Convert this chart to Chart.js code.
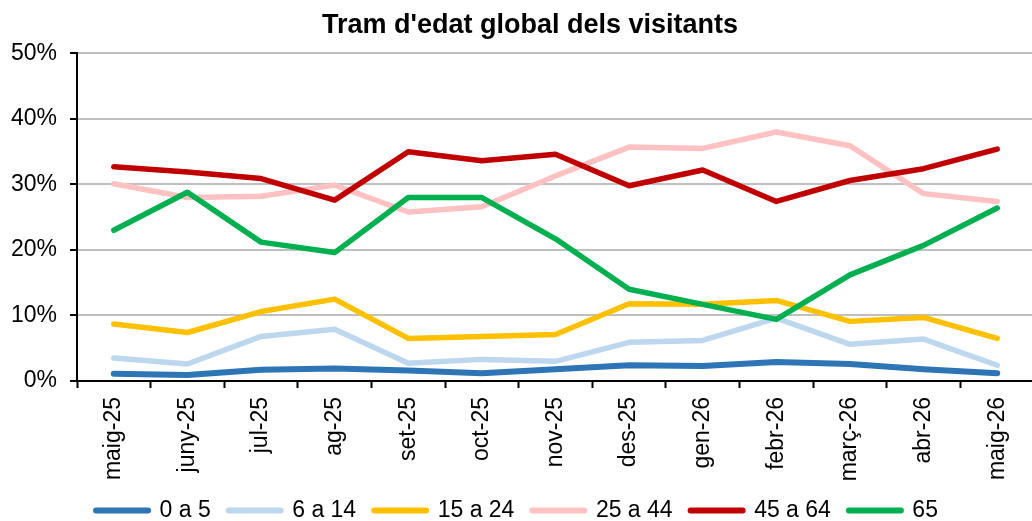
<!DOCTYPE html>
<html>
<head>
<meta charset="utf-8">
<script src="https://cdn.jsdelivr.net/npm/chart.js@4.4.1/dist/chart.umd.min.js"></script>
<style>
  html, body { margin: 0; padding: 0; background: #fff; overflow: hidden; }
  #wrap { width: 1032px; height: 521px; overflow: hidden; position: relative; }
  #box { width: 1036px; height: 521px; position: absolute; left: 0; top: 0; }
</style>
</head>
<body>
<div id="wrap"><div id="box"><canvas id="chAge"></canvas></div></div>
<script>
// Age band share of visitors per month (%)
var months = ["maig-25", "juny-25", "jul-25", "ag-25", "set-25", "oct-25", "nov-25",
              "des-25", "gen-26", "febr-26", "març-26", "abr-26", "maig-26"];
var age0a5   = [1.1, 0.9, 1.7, 1.9, 1.6, 1.2, 1.8, 2.4, 2.3, 2.9, 2.6, 1.8, 1.2];
var age6a14  = [3.5, 2.6, 6.8, 7.9, 2.7, 3.3, 3.0, 5.9, 6.2, 9.6, 5.6, 6.4, 2.4];
var age15a24 = [8.7, 7.4, 10.6, 12.5, 6.5, 6.8, 7.1, 11.8, 11.7, 12.3, 9.1, 9.7, 6.5];
var age25a44 = [30.1, 28.0, 28.2, 29.9, 25.8, 26.6, 31.3, 35.7, 35.5, 38.0, 35.9, 28.6, 27.4];
var age45a64 = [32.7, 31.9, 30.9, 27.6, 35.0, 33.6, 34.6, 29.8, 32.2, 27.4, 30.6, 32.4, 35.4];
var age65    = [23.0, 28.8, 21.2, 19.6, 28.0, 28.0, 21.7, 14.0, 11.7, 9.4, 16.2, 20.7, 26.4];
var yTicks = [0, 10, 20, 30, 40, 50];

var FONT = "'Liberation Sans', Arial, sans-serif";
Chart.defaults.font.family = FONT;
Chart.defaults.color = "#000";

function line(label, data, color, order, w) {
  return {
    label: label, data: data, borderColor: color, backgroundColor: color,
    borderWidth: w || 5.5, pointRadius: 0, pointHoverRadius: 0, tension: 0,
    borderCapStyle: "round", borderJoinStyle: "round", fill: false, order: order
  };
}

// short legend band + title nudged right, as in the Excel export
var layoutTweaks = {
  id: "layoutTweaks",
  afterInit: function (chart) {
    var lg = chart.legend, fit = lg.fit;
    lg.fit = function () { fit.call(this); this.height = 40; };
  },
  afterLayout: function (chart) {
    if (chart.titleBlock) chart.titleBlock.left += 26;
  }
};

new Chart(document.getElementById("chAge"), {
  type: "line",
  data: {
    labels: months,
    datasets: [
      line("0 a 5", age0a5, "#2e75b6", 6, 6),
      line("6 a 14", age6a14, "#bdd7ee", 5),
      line("15 a 24", age15a24, "#ffc000", 4),
      line("25 a 44", age25a44, "#ffc1c1", 3),
      line("45 a 64", age45a64, "#c00000", 2),
      line("65", age65, "#00b050", 1)
    ]
  },
  plugins: [layoutTweaks],
  options: {
    responsive: true, maintainAspectRatio: false, animation: false,
    layout: { padding: { left: 0, right: 2, top: 0, bottom: 0 } },
    plugins: {
      title: {
        display: true, text: "Tram d'edat global dels visitants", color: "#000",
        font: { size: 27, weight: "bold", family: FONT },
        padding: { top: 9, bottom: 12 }
      },
      legend: {
        position: "bottom",
        labels: {
          usePointStyle: true, pointStyleWidth: 52, boxHeight: 6,
          padding: 18, color: "#000",
          font: { size: 23, family: FONT },
          sort: function (a, b) { return a.datasetIndex - b.datasetIndex; },
          generateLabels: function (chart) {
            var items = Chart.defaults.plugins.legend.labels.generateLabels(chart);
            items.forEach(function (it) {
              it.pointStyle = "line"; it.lineWidth = 6; it.lineCap = "round";
            });
            return items;
          }
        }
      },
      tooltip: { enabled: false }
    },
    scales: {
      x: {
        offset: true,
        grid: { offset: true, drawOnChartArea: false, drawTicks: true, tickLength: 7, tickColor: "#000", tickWidth: 2 },
        border: { display: true, color: "#000", width: 2 },
        ticks: { minRotation: 90, maxRotation: 90, padding: 9, color: "#000", font: { size: 23 } },
        afterFit: function (s) { s.height = 100; }
      },
      y: {
        min: 0, max: 50,
        afterBuildTicks: function (s) { s.ticks = yTicks.map(function (v) { return { value: v }; }); },
        afterFit: function (s) { s.width = 77; },
        grid: { color: "#c0c0c0", lineWidth: 2, tickLength: 7, tickColor: "#000", tickWidth: 2 },
        border: { display: true, color: "#000", width: 2 },
        ticks: { padding: 13, color: "#000", font: { size: 23 }, callback: function (v) { return v + "%"; } }
      }
    }
  }
});
</script>
</body>
</html>
